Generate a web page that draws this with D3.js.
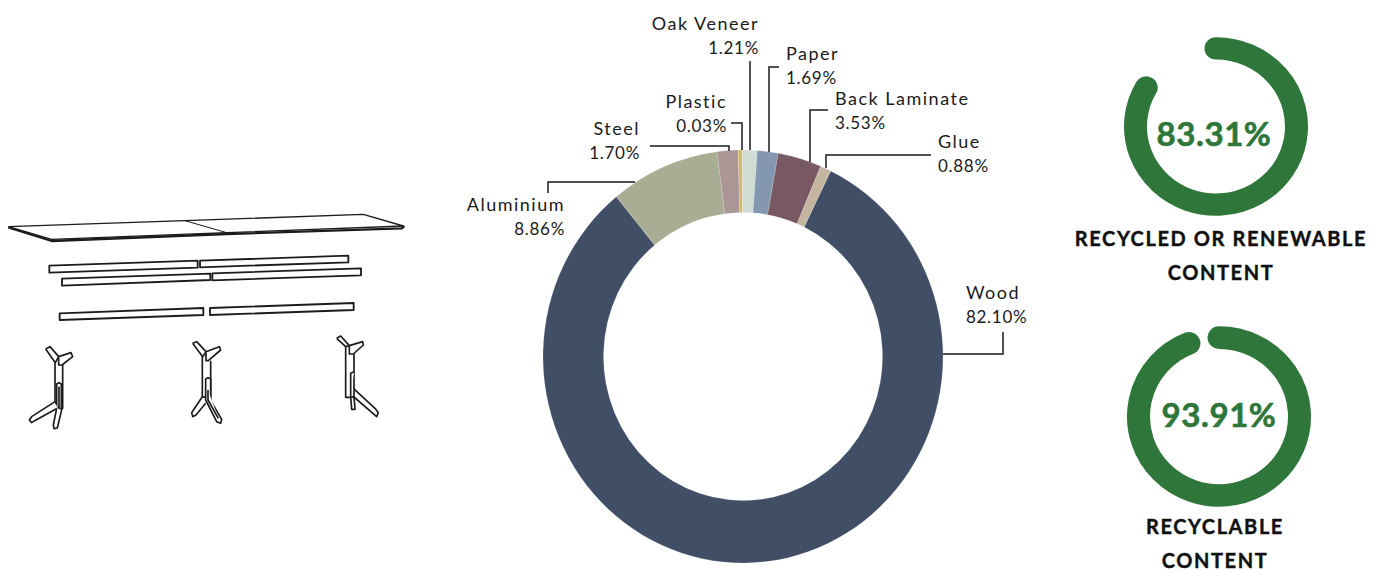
<!DOCTYPE html>
<html>
<head>
<meta charset="utf-8">
<script src="https://cdn.jsdelivr.net/npm/d3@7"></script>
<style>
html, body { margin: 0; padding: 0; background: #fff; overflow: hidden; }
svg { display: block; }
text { font-family: Lato, "Noto Sans", sans-serif; }
</style>
</head>
<body>
<script>
// donut values, clockwise from the wood slice
var materials = ['Wood', 'Aluminium', 'Steel', 'Plastic', 'Oak Veneer', 'Paper', 'Back Laminate', 'Glue'];
var shares = [82.10, 8.86, 1.70, 0.03, 1.21, 1.69, 3.53, 0.88];
var slice_colors = ['#404f66', '#a8ad94', '#aa9694', '#d4b86a', '#d0dcd3', '#8397b0', '#775863', '#c4b5a0'];

// gauges
var gauge_values = [83.31, 93.91];
var gauge_titles = [['RECYCLED OR RENEWABLE', 'CONTENT'], ['RECYCLABLE', 'CONTENT']];

var width = 1384, height = 570;
var min_share = 0.32; // tiny slices are still drawn visible, plastic is wider than its number in the original

var svg = d3.select('body').append('svg').attr('width', width).attr('height', height);

// ---- exploded table drawing, coordinates are in 3x units of the picture
var table_top = [[25,80],[155,118],[680,98],[1210,78],[1090,43],[555,62],[25,80]];
var table_edge = [[25,82],[155,123],[680,102],[1205,85],[1213,78]];
var table_seam = [[555,62],[680,98]];
var beams = [
	[[148,197],[593,182],[593,203],[148,218]],
	[[600,182],[1045,167],[1045,187],[600,202]],
	[[186,236],[631,221],[631,240],[186,257]],
	[[637,220],[1083,205],[1083,226],[637,241]],
	[[179,340],[610,324],[610,345],[179,360]],
	[[630,324],[1061,309],[1061,330],[630,345]]
];
var leg_parts = [
	// left leg
	[[165,605],[95,650],[88,660],[95,668],[104,662],[172,625]],
	[[170,625],[160,675],[162,686],[172,684],[186,625]],
	[[165,488],[165,605],[178,625],[188,625],[188,495]],
	[[170,615],[170,552],[177,548],[184,552],[184,625]],
	[[177,560],[177,625]],
	[[137,447],[150,440],[176,470],[166,488],[137,447]],
	[[176,470],[213,458],[218,470],[186,495],[176,495],[176,470]],
	// middle leg
	[[607,590],[575,638],[578,650],[588,645],[617,610]],
	[[625,590],[665,658],[662,670],[650,665],[617,600]],
	[[607,470],[607,590],[632,595],[632,482]],
	[[617,600],[617,537],[624,533],[632,537],[632,600]],
	[[624,570],[624,600],[655,655]],
	[[578,430],[590,425],[618,455],[608,470],[578,430]],
	[[618,455],[658,440],[662,450],[625,482],[618,482],[618,455]],
	// right leg
	[[1052,590],[1055,628],[1065,628],[1062,590]],
	[[1060,565],[1125,625],[1135,638],[1130,650],[1055,585]],
	[[1037,440],[1037,592],[1050,592],[1062,590],[1062,462]],
	[[1052,590],[1052,520],[1062,515]],
	[[1010,415],[1022,408],[1048,437],[1037,440],[1010,415]],
	[[1048,437],[1088,425],[1090,435],[1060,462],[1048,462],[1048,437]]
];

var drawing = svg.append('g').attr('transform', 'translate(0,200) scale(' + (1/3) + ')')
	.attr('stroke', '#1c1c1c').attr('stroke-linejoin', 'round').attr('fill', '#fff');
var line = d3.line();
drawing.append('path').attr('d', line(table_top)).attr('stroke-width', 4);
drawing.append('path').attr('d', line(table_edge)).attr('fill', 'none').attr('stroke-width', 7);
drawing.append('path').attr('d', line(table_seam)).attr('fill', 'none').attr('stroke-width', 3);
drawing.selectAll('.beam').data(beams).enter().append('path').attr('class', 'beam')
	.attr('d', d => line(d) + 'Z').attr('stroke-width', 5.5);
drawing.selectAll('.leg').data(leg_parts).enter().append('path').attr('class', 'leg')
	.attr('d', d => line(d)).attr('stroke-width', 5);

// ---- donut
var donut_x = 743, donut_y = 356.5, outer_r = 200, inner_r = 139.5;
var start_angle = 26 * Math.PI / 180;

var pie = d3.pie().sort(null)
	.value(d => Math.max(d, min_share))
	.startAngle(start_angle).endAngle(start_angle + 2 * Math.PI);
var arc = d3.arc().innerRadius(inner_r).outerRadius(outer_r);

// the original ring is a little taller than it is wide
svg.append('g').attr('transform', 'translate(' + donut_x + ',' + donut_y + ') scale(1,1.0325)')
	.selectAll('path').data(pie(shares)).enter().append('path')
	.attr('d', arc).attr('fill', (d, i) => slice_colors[i])
	.attr('stroke', '#fff').attr('stroke-width', 0.15);

// leader lines and their labels, same order as materials
var leaders = [
	[[943,354],[1003,354],[1003,332]],
	[[548,193],[548,182],[635,182]],
	[[650,146],[729,146],[729,151]],
	[[731,123],[742,123],[742,150]],
	[[750,61],[750,150]],
	[[779,67],[769,67],[769,152]],
	[[828,110],[810,110],[810,162]],
	[[931,155],[826,155],[826,168]]
];
var label_pos = [
	{x: 966, y: 299, anchor: 'start'},
	{x: 565, y: 211, anchor: 'end'},
	{x: 640, y: 135, anchor: 'end'},
	{x: 727, y: 108, anchor: 'end'},
	{x: 759, y: 30, anchor: 'end'},
	{x: 786, y: 60, anchor: 'start'},
	{x: 835, y: 105, anchor: 'start'},
	{x: 938, y: 148, anchor: 'start'}
];
svg.append('g').selectAll('path').data(leaders).enter().append('path')
	.attr('d', d => line(d)).attr('fill', 'none').attr('stroke', '#1a1a1a').attr('stroke-width', 1.5);

var labels = svg.append('g').selectAll('g').data(materials).enter().append('g')
	.attr('transform', (d, i) => 'translate(' + label_pos[i].x + ',' + label_pos[i].y + ')')
	.attr('text-anchor', (d, i) => label_pos[i].anchor)
	.attr('fill', '#1a1a1a');
labels.append('text').attr('font-size', 18).attr('letter-spacing', 1.5).text(d => d);
labels.append('text').attr('y', 24).attr('font-size', 17).attr('letter-spacing', 0.7)
	.text((d, i) => shares[i].toFixed(2) + '%');

// ---- gauges
var gauge_pos = [
	{x: 1216, y: 126.5, ry: 0.97, tx: 1214, ty: 146, title_x: 1221, title_y: 246, title_step: 34},
	{x: 1219, y: 416.5, ry: 0.98, tx: 1219, ty: 427, title_x: 1215, title_y: 534, title_step: 34}
];
var gauge_green = '#2e7639';
var gauge_r = 80.5;
var sweep = d3.scaleLinear().domain([0, 100]).range([0, 2 * Math.PI]);

function gauge_path(v) {
	var p = d3.path();
	p.arc(0, 0, gauge_r, -Math.PI / 2, -Math.PI / 2 + sweep(v));
	return p.toString();
}

var gauges = svg.append('g').selectAll('g').data(gauge_values).enter().append('g');
gauges.append('path')
	.attr('transform', (d, i) => 'translate(' + gauge_pos[i].x + ',' + gauge_pos[i].y + ') scale(1,' + gauge_pos[i].ry + ')')
	.attr('d', gauge_path)
	.attr('fill', 'none').attr('stroke', gauge_green).attr('stroke-width', 23).attr('stroke-linecap', 'round');
gauges.append('text')
	.attr('x', (d, i) => gauge_pos[i].tx).attr('y', (d, i) => gauge_pos[i].ty)
	.attr('text-anchor', 'middle').attr('font-size', 33).attr('font-weight', 700)
	.attr('letter-spacing', 0.6).attr('fill', gauge_green)
	.attr('stroke', gauge_green).attr('stroke-width', 0.6)
	.text(d => d.toFixed(2) + '%');

gauge_titles.forEach(function(lines, i) {
	svg.append('g').selectAll('text').data(lines).enter().append('text')
		.attr('x', gauge_pos[i].title_x)
		.attr('y', (d, j) => gauge_pos[i].title_y + j * gauge_pos[i].title_step)
		.attr('text-anchor', 'middle').attr('font-size', 20).attr('font-weight', 700)
		.attr('letter-spacing', 1.6).attr('fill', '#111')
		.attr('stroke', '#111').attr('stroke-width', 0.4)
		.text(d => d);
});
</script>
</body>
</html>
